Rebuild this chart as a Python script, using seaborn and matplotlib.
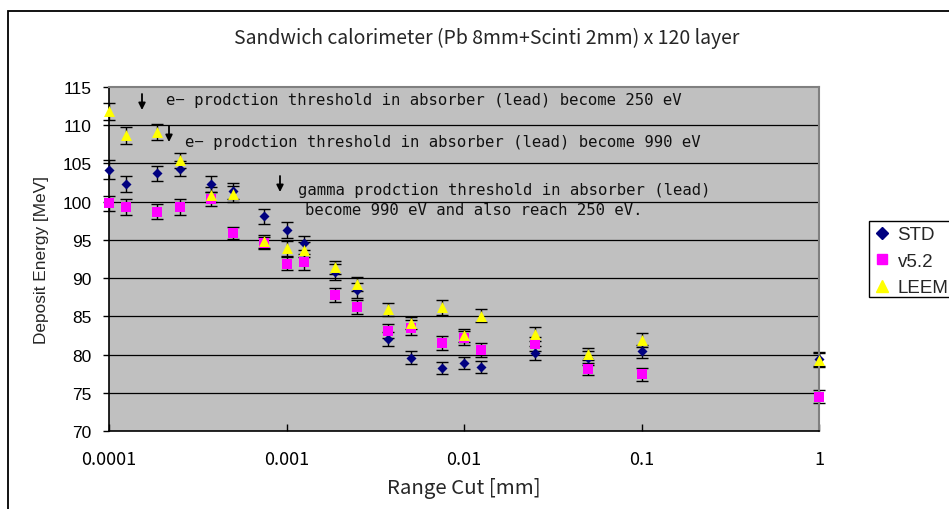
import matplotlib
matplotlib.use("Agg")
import matplotlib.pyplot as plt
from matplotlib.lines import Line2D
from matplotlib.patches import Rectangle, FancyArrowPatch
from matplotlib.ticker import FixedLocator, FixedFormatter, NullLocator
import pandas as pd
import seaborn as sns

# Range cut values [mm]
range_cut = [1e-4, 1.25e-4, 1.875e-4, 2.5e-4, 3.75e-4, 5e-4, 7.5e-4,
             1e-3, 1.25e-3, 1.875e-3, 2.5e-3, 3.75e-3, 5e-3, 7.5e-3,
             1e-2, 1.25e-2, 2.5e-2, 5e-2, 0.1, 1.0]

# Deposit energy [MeV] per physics list
std_energy = [104.2, 102.3, 103.7, 104.3, 102.3, 101.4, 98.1, 96.3, 94.6, 90.8,
              88.4, 82.0, 79.6, 78.2, 78.9, 78.4, 80.2, 79.5, 80.4, 79.4]
v52_energy = [99.8, 99.3, 98.7, 99.3, 100.3, 95.9, 94.6, 91.9, 92.1, 87.8,
              86.2, 83.1, 83.5, 81.5, 82.2, 80.6, 81.4, 78.1, 77.4, 74.5]
leem_energy = [111.8, 108.7, 109.1, 105.4, 100.9, 101.0, 94.8, 93.9, 93.7, 91.4,
               89.2, 85.9, 84.1, 86.2, 82.5, 85.1, 82.7, 80.1, 81.9, 79.3]

# Statistical errors [MeV]
std_err = [1.2, 1.1, 1.0, 1.0, 1.1, 1.0, 1.0, 1.0, 0.9, 1.0,
           1.0, 0.9, 0.9, 0.8, 0.8, 0.8, 0.9, 0.9, 0.9, 0.9]
v52_err = [1.0, 1.0, 1.0, 1.0, 0.9, 0.8, 0.8, 0.9, 1.0, 0.9,
           0.9, 0.9, 1.0, 0.9, 0.9, 0.9, 0.9, 0.8, 0.8, 0.9]
leem_err = [1.1, 1.1, 1.0, 1.0, 1.0, 1.0, 0.9, 1.0, 1.0, 0.9,
            0.9, 0.9, 0.8, 1.0, 0.9, 0.8, 0.9, 0.8, 0.9, 0.9]

models = ["STD", "v5.2", "LEEM"]
colors = {"STD": "#000080", "v5.2": "#FF00FF", "LEEM": "#FFFF00"}
markers = {"STD": "D", "v5.2": "s", "LEEM": "^"}
sizes = {"STD": 26, "v5.2": 50, "LEEM": 62}

x_ticks = [1e-4, 1e-3, 1e-2, 0.1, 1.0]
x_ticklabels = ["0.0001", "0.001", "0.01", "0.1", "1"]
y_ticks = [70, 75, 80, 85, 90, 95, 100, 105, 110, 115]

frames = []
for name, vals, errs in zip(models, [std_energy, v52_energy, leem_energy],
                            [std_err, v52_err, leem_err]):
    frames.append(pd.DataFrame({"cut": range_cut, "energy": vals,
                                "err": errs, "model": name}))
df = pd.concat(frames, ignore_index=True)

sns.set_theme(style="white")
plt.rcParams["font.family"] = ["Liberation Sans", "DejaVu Sans"]
gothic = ["Noto Sans CJK JP", "DejaVu Sans"]
mono = ["DejaVu Sans Mono"]

W, H = 949, 510
fig = plt.figure(figsize=(W / 100, H / 100), dpi=100)
fig.patch.set_facecolor("white")

# outer chart frame
fig.patches.append(Rectangle((8 / W, -0.2), 2.0, 1.2 - 12 / H,
                             transform=fig.transFigure, fill=False,
                             edgecolor="black", linewidth=1.3))

left, right, top, bottom = 109, 819, 88, 432
ax = fig.add_axes([left / W, (H - bottom) / H, (right - left) / W, (bottom - top) / H])
ax.set_facecolor("#C0C0C0")
ax.set_xscale("log")
ax.set_xlim(1e-4, 1.0)
ax.set_ylim(70, 115)

for y in y_ticks[1:-1]:
    ax.axhline(y, color="black", linewidth=0.9, zorder=1)

for name in models:
    sub = df[df["model"] == name]
    ax.errorbar(sub["cut"], sub["energy"], yerr=sub["err"], fmt="none",
                ecolor="black", elinewidth=1.0, capsize=4.3, capthick=1.0,
                zorder=2, clip_on=False)
    sns.scatterplot(data=sub, x="cut", y="energy", color=colors[name],
                    marker=markers[name], s=sizes[name], linewidth=0,
                    ax=ax, zorder=3, legend=False, clip_on=False)

ax.xaxis.set_major_locator(FixedLocator(x_ticks))
ax.xaxis.set_major_formatter(FixedFormatter(x_ticklabels))
ax.xaxis.set_minor_locator(NullLocator())
ax.set_yticks(y_ticks)
ax.tick_params(axis="x", direction="in", length=5, width=1, pad=14,
               labelsize=13, bottom=True, colors="black")
ax.tick_params(axis="y", direction="out", length=4, width=1, pad=8.5,
               labelsize=12.5, left=True, colors="black")
for lbl in ax.get_xticklabels():
    lbl.set_family(gothic)

for side in ["left", "bottom"]:
    ax.spines[side].set_color("black")
    ax.spines[side].set_linewidth(1.2)
for side in ["top", "right"]:
    ax.spines[side].set_color("#808080")
    ax.spines[side].set_linewidth(1.5)

ax.set_xlabel("Range Cut [mm]", fontsize=14.7, labelpad=6, family=gothic)
ax.set_ylabel("Deposit Energy [MeV]", fontsize=12.4, labelpad=10)

fig.text(487 / W, 1 - 38 / H,
         "Sandwich calorimeter (Pb 8mm+Scinti 2mm) x 120 layer",
         ha="center", va="center", fontsize=14, family=gothic)

# threshold annotations with downward arrows
notes = [
    (142, 95, 111, 166, 101, "e\u2212 prodction threshold in absorber (lead) become 250 eV"),
    (169, 127, 143, 185, 142, "e\u2212 prodction threshold in absorber (lead) become 990 eV"),
    (280, 177, 193, 298, 191, "gamma prodction threshold in absorber (lead)"),
]
for ax_x, y0, y1, tx, ty, txt in notes:
    fig.patches.append(FancyArrowPatch(
        (ax_x / W, 1 - y0 / H), (ax_x / W, 1 - y1 / H),
        transform=fig.transFigure, arrowstyle="-|>,head_length=4,head_width=2",
        mutation_scale=1, shrinkA=0, shrinkB=0, color="black", linewidth=1.3))
    fig.text(tx / W, 1 - ty / H, txt, ha="left", va="center", fontsize=11.25,
             family=mono, color="#111111")
fig.text(305 / W, 1 - 211 / H, "become 990 eV and also reach 250 eV.",
         ha="left", va="center", fontsize=11.25, family=mono, color="#111111")

# legend: frame runs off the right edge of the chart area
fig.patches.append(Rectangle((869 / W, 1 - 298 / H), 0.2, 76 / H,
                             transform=fig.transFigure, facecolor="white",
                             edgecolor="black", linewidth=1.0, zorder=5))
handles = [Line2D([], [], linestyle="none", marker=markers[m], color=colors[m],
                  markersize={"STD": 6.5, "v5.2": 7, "LEEM": 8}[m]) for m in models]
leg = fig.legend(handles, models, loc="center left",
                 bbox_to_anchor=(874 / W, 1 - 262 / H), frameon=False,
                 fontsize=13.5, handlelength=0.8, handletextpad=0.45,
                 borderpad=0, labelspacing=0.5, borderaxespad=0)
leg.set_zorder(6)

fig.savefig("out.png", dpi=100)
